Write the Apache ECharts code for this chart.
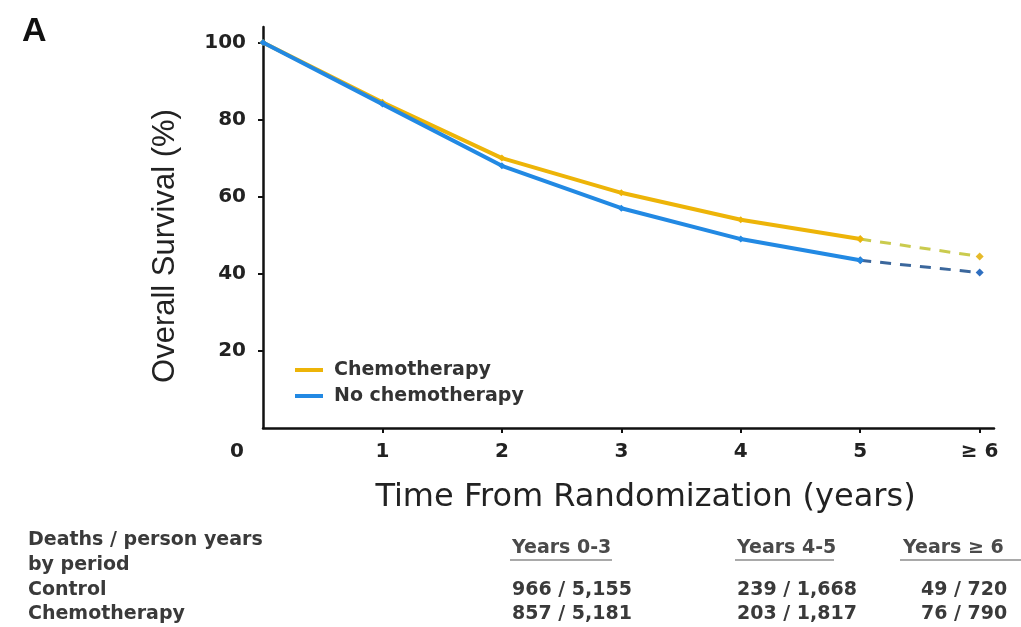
<!DOCTYPE html>
<html>
<head>
<meta charset="utf-8">
<script src="https://cdn.jsdelivr.net/npm/echarts@6/dist/echarts.min.js"></script>
<style>
html,body{margin:0;padding:0;background:#fff;}
#chart{width:1021px;height:627px;}
</style>
</head>
<body>
<div id="chart"></div>
<script>
// ---- data ----
var years = [0, 1, 2, 3, 4, 5, 6];
var xTickLabels = ['0', '1', '2', '3', '4', '5', '\u2265 6'];
var yTickValues = [20, 40, 60, 80, 100];
var chemo = [100, 84.5, 70, 61, 54, 49, 44.5];
var noChemo = [100, 84, 68, 57, 49, 43.5, 40.3];
var seriesNames = ['Chemotherapy', 'No chemotherapy'];
var panelLabel = 'A';
var xTitle = 'Time From Randomization (years)';
var yTitle = 'Overall Survival (%)';
var tableRowLabels = ['Deaths / person years', 'by period', 'Control', 'Chemotherapy'];
var tablePeriods = ['Years 0-3', 'Years 4-5', 'Years \u2265 6'];
var tableControl = ['966 / 5,155', '239 / 1,668', '49 / 720'];
var tableChemo = ['857 / 5,181', '203 / 1,817', '76 / 790'];

function pairs(xs, ys, from, to) {
  var out = [];
  for (var i = from; i <= to; i++) out.push([xs[i], ys[i]]);
  return out;
}

var cChemo = '#EDB408', cNo = '#2289E3';
var cChemoDash = '#CACB4E', cNoDash = '#3B679C';
var lineW = 4;

var chart = echarts.init(document.getElementById('chart'));

var graphics = [];
graphics.push({type: 'text', left: 22, top: 15, style: {text: panelLabel, font: 'bold 34px "Liberation Sans"', fill: '#111'}});
var rowY = [540, 565, 590, 614];
var tFont = 'bold 19px "DejaVu Sans"';
var tColor = '#3a3a3a';
tableRowLabels.forEach(function (t, i) {
  graphics.push({type: 'text', x: 28, y: rowY[i], style: {text: t, font: tFont, fill: tColor, verticalAlign: 'middle'}});
});
var colX = [512, 737, 921];
var headX = [512, 737, 903];
var headUnderline = [[510, 612], [735, 834], [900, 1021]];
tablePeriods.forEach(function (t, i) {
  graphics.push({type: 'text', x: headX[i], y: 548, style: {text: t, font: 'bold 19px "DejaVu Sans"', fill: '#4a4a4a', verticalAlign: 'middle'}});
  graphics.push({type: 'line', shape: {x1: headUnderline[i][0], y1: 560, x2: headUnderline[i][1], y2: 560}, style: {stroke: '#555', lineWidth: 1.2}});
});
tableControl.forEach(function (t, i) {
  graphics.push({type: 'text', x: colX[i], y: 590, style: {text: t, font: tFont, fill: tColor, verticalAlign: 'middle'}});
});
tableChemo.forEach(function (t, i) {
  graphics.push({type: 'text', x: colX[i], y: 614, style: {text: t, font: tFont, fill: tColor, verticalAlign: 'middle'}});
});

var option = {
  backgroundColor: '#fff',
  animation: false,
  grid: {left: 263, right: 27, top: 27, bottom: 199, containLabel: false},
  legend: {
    data: seriesNames,
    orient: 'vertical',
    left: 290,
    top: 355,
    icon: 'rect',
    itemWidth: 28,
    itemHeight: 4,
    itemGap: 6,
    textStyle: {fontFamily: 'DejaVu Sans', fontWeight: 'bold', fontSize: 19, color: '#333', lineHeight: 20, padding: [0, 0, 0, 6]}
  },
  xAxis: {
    type: 'value',
    min: 0,
    max: 6.12,
    interval: 1,
    name: xTitle,
    nameLocation: 'middle',
    nameGap: 54,
    nameTextStyle: {fontFamily: 'DejaVu Sans', fontSize: 32, color: '#222', padding: [0, 0, 0, 34]},
    axisLine: {lineStyle: {color: '#111', width: 2.5}},
    axisTick: {show: true, length: 5, inside: false, lineStyle: {color: '#111', width: 2}, customValues: years.slice(1)},
    axisLabel: {
      customValues: years,
      margin: 14,
      fontFamily: 'DejaVu Sans', fontWeight: 'bold', fontSize: 20, color: '#222',
      formatter: function (v) {
        var i = years.indexOf(v);
        if (i < 0) return '';
        return i === 0 ? '{z|' + xTickLabels[i] + '}' : xTickLabels[i];
      },
      rich: {z: {fontFamily: 'DejaVu Sans', fontWeight: 'bold', fontSize: 20, color: '#222', padding: [0, 52, 0, 0]}}
    },
    splitLine: {show: false}
  },
  yAxis: {
    type: 'value',
    min: 0,
    max: 104,
    name: yTitle,
    nameLocation: 'middle',
    nameGap: 82,
    nameTextStyle: {fontFamily: 'Liberation Sans', fontSize: 31, color: '#222', padding: [0, 37, 0, 0]},
    axisLine: {show: true, lineStyle: {color: '#111', width: 2.5}},
    axisTick: {show: true, length: 5, lineStyle: {color: '#111', width: 2}, customValues: yTickValues},
    axisLabel: {customValues: yTickValues, margin: 17, fontFamily: 'DejaVu Sans', fontWeight: 'bold', fontSize: 20, color: '#222'},
    splitLine: {show: false}
  },
  series: [
    {name: seriesNames[0], type: 'line', data: pairs(years, chemo, 0, 5), color: cChemo,
     lineStyle: {width: lineW, color: cChemo}, symbol: 'diamond', symbolSize: 7, showSymbol: true,
     itemStyle: {color: cChemo}, z: 2},
    {name: seriesNames[0] + ' (extrapolated)', type: 'line', data: pairs(years, chemo, 5, 6),
     lineStyle: {width: 3, color: cChemoDash, type: [11, 9]}, symbol: 'diamond', symbolSize: 8,
     itemStyle: {color: '#E6BA2A'}, z: 1},
    {name: seriesNames[1], type: 'line', data: pairs(years, noChemo, 0, 5), color: cNo,
     lineStyle: {width: lineW, color: cNo}, symbol: 'diamond', symbolSize: 7, showSymbol: true,
     itemStyle: {color: cNo}, z: 3},
    {name: seriesNames[1] + ' (extrapolated)', type: 'line', data: pairs(years, noChemo, 5, 6),
     lineStyle: {width: 3, color: cNoDash, type: [11, 9]}, symbol: 'diamond', symbolSize: 8,
     itemStyle: {color: '#2F6FC0'}, z: 1}
  ],
  graphic: graphics
};
chart.setOption(option);
</script>
</body>
</html>
